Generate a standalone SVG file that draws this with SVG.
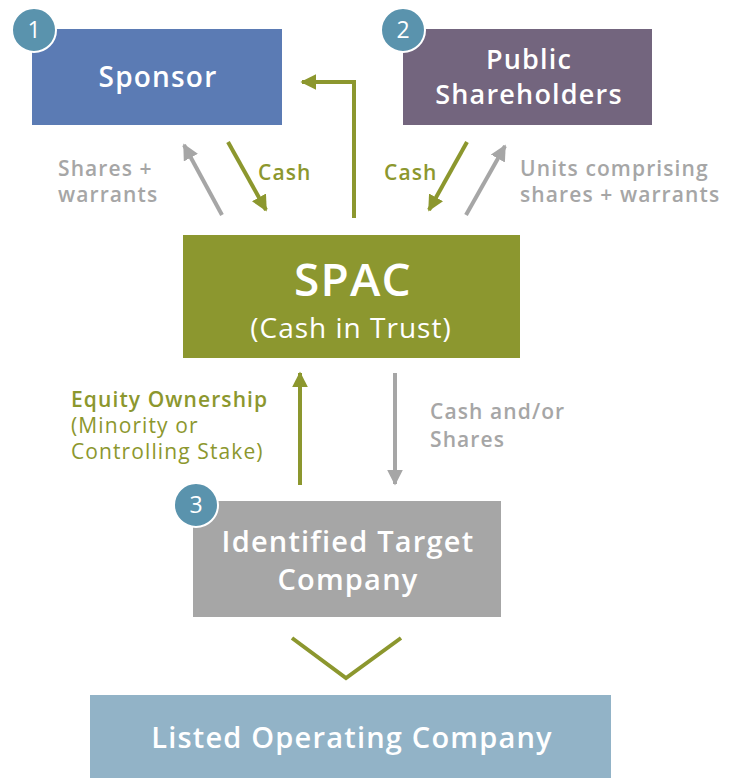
<svg xmlns="http://www.w3.org/2000/svg" width="729" height="778" viewBox="0 0 729 778">
  <style>
    text { font-family: "Open Sans", Lato, "Liberation Sans", sans-serif; }
    .box-label { fill: #ffffff; font-weight: 600; text-anchor: middle; letter-spacing: 1.2px; }
    .badge circle { fill: #5a93ad; stroke: #ffffff; stroke-width: 2; }
    .badge text { fill: #ffffff; font-size: 23px; text-anchor: middle; }
    .lbl-gray { fill: #a6a6a6; font-size: 21px; font-weight: 600; letter-spacing: 1.1px; }
    .lbl-green { fill: #8c972e; font-size: 21px; font-weight: 600; letter-spacing: 1.1px; }
    .lbl-green-reg { fill: #8c972e; font-size: 21px; letter-spacing: 1.1px; }
    .conn-green { stroke: #8c972e; stroke-width: 4; fill: none; }
    .conn-gray { stroke: #a6a6a6; stroke-width: 4; fill: none; }
  </style>
  <defs>
    <marker id="head-green" viewBox="0 0 10 10" refX="9" refY="5" markerWidth="4" markerHeight="4" orient="auto" markerUnits="strokeWidth">
      <path d="M0,0 L10,5 L0,10 z" fill="#8c972e"/>
    </marker>
    <marker id="head-gray" viewBox="0 0 10 10" refX="9" refY="5" markerWidth="4" markerHeight="4" orient="auto" markerUnits="strokeWidth">
      <path d="M0,0 L10,5 L0,10 z" fill="#a6a6a6"/>
    </marker>
  </defs>

  <rect width="729" height="778" fill="#ffffff"/>

  <!-- connectors -->
  <g id="connectors">
    <line class="conn-gray" x1="222" y1="215" x2="184" y2="145" marker-end="url(#head-gray)"/>
    <line class="conn-green" x1="228" y1="142" x2="266" y2="210" marker-end="url(#head-green)"/>
    <polyline class="conn-green" points="354,218 354,82 302,82" marker-end="url(#head-green)"/>
    <line class="conn-green" x1="467" y1="142" x2="429" y2="210" marker-end="url(#head-green)"/>
    <line class="conn-gray" x1="466" y1="215" x2="505" y2="146" marker-end="url(#head-gray)"/>
    <line class="conn-green" x1="300" y1="485" x2="300" y2="373" marker-end="url(#head-green)"/>
    <line class="conn-gray" x1="395" y1="373" x2="395" y2="484" marker-end="url(#head-gray)"/>
    <polyline class="conn-green" points="292,638 346,678 401,638"/>
  </g>

  <!-- edge labels -->
  <g id="edge-labels">
    <text class="lbl-gray" x="58" y="176">Shares +</text>
    <text class="lbl-gray" x="58" y="202">warrants</text>
    <text class="lbl-green" x="258" y="180">Cash</text>
    <text class="lbl-green" x="384" y="180">Cash</text>
    <text class="lbl-gray" x="520" y="176">Units comprising</text>
    <text class="lbl-gray" x="520" y="202" letter-spacing="0.9">shares + warrants</text>
    <text class="lbl-green" x="71" y="407">Equity Ownership</text>
    <text class="lbl-green-reg" x="71" y="433">(Minority or</text>
    <text class="lbl-green-reg" x="71" y="459">Controlling Stake)</text>
    <text class="lbl-gray" x="430" y="419">Cash and/or</text>
    <text class="lbl-gray" x="430" y="447">Shares</text>
  </g>

  <!-- nodes -->
  <g id="sponsor">
    <rect x="32" y="29" width="250" height="96" fill="#5b7bb4"/>
    <text class="box-label" x="158" y="87" font-size="28" letter-spacing="1.6">Sponsor</text>
  </g>
  <g id="public-shareholders">
    <rect x="403" y="29" width="249" height="96" fill="#73657e"/>
    <text class="box-label" x="529" y="69" font-size="27">Public</text>
    <text class="box-label" x="529" y="104" font-size="27">Shareholders</text>
  </g>
  <g id="spac">
    <rect x="183" y="235" width="337" height="123" fill="#8c972f"/>
    <text class="box-label" x="353" y="296" font-size="46" letter-spacing="2">SPAC</text>
    <text x="351" y="338" font-size="28" fill="#ffffff" text-anchor="middle" letter-spacing="1">(Cash in Trust)</text>
  </g>
  <g id="target-company">
    <rect x="193" y="501" width="308" height="116" fill="#a6a6a6"/>
    <text class="box-label" x="348" y="552" font-size="29">Identified Target</text>
    <text class="box-label" x="348" y="590" font-size="29">Company</text>
  </g>
  <g id="listed-company">
    <rect x="90" y="695" width="521" height="83" fill="#92b3c7"/>
    <text class="box-label" x="352" y="748" font-size="29" letter-spacing="1.3">Listed Operating Company</text>
  </g>

  <!-- step badges -->
  <g id="badge-1" class="badge">
    <circle cx="34" cy="30" r="22"/>
    <text x="34" y="38">1</text>
  </g>
  <g id="badge-2" class="badge">
    <circle cx="403" cy="30" r="22"/>
    <text x="403" y="38">2</text>
  </g>
  <g id="badge-3" class="badge">
    <circle cx="196" cy="505" r="22"/>
    <text x="196" y="513">3</text>
  </g>
</svg>
